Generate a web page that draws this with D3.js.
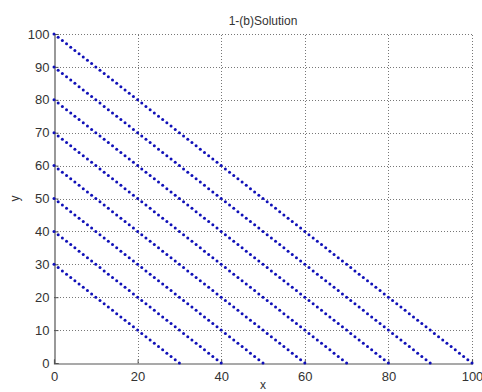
<!DOCTYPE html>
<html>
<head>
<meta charset="utf-8">
<script src="https://cdn.jsdelivr.net/npm/d3@7.9.0/dist/d3.min.js"></script>
<style>
  body { margin: 0; background: #fff; }
  svg text { font-family: "Liberation Sans", Arial, sans-serif; fill: #333; }
</style>
</head>
<body>
<div id="chart"></div>
<script>
// each line is the integer solutions of x + y = c
const intercepts = [30, 40, 50, 60, 70, 80, 90, 100];
const step = 1;
const xTicks = [0, 20, 40, 60, 80, 100];
const yTicks = [0, 10, 20, 30, 40, 50, 60, 70, 80, 90, 100];
const title = '1-(b)Solution';

const width = 482, height = 392;
const margin = { top: 34, right: 10, bottom: 29, left: 54 };

const svg = d3.select('#chart').append('svg')
  .attr('width', width)
  .attr('height', height);

const x = d3.scaleLinear().domain([0, 100]).range([margin.left, 472]);
const y = d3.scaleLinear().domain([0, 100]).range([363, margin.top]);

// gridlines
const grid = svg.append('g').attr('class', 'grid')
  .attr('stroke', '#777')
  .attr('stroke-width', 1)
  .attr('stroke-dasharray', '1,2');
grid.selectAll('line.v').data(xTicks.filter(d => d > 0)).join('line')
  .attr('x1', d => Math.round(x(d)) + 0.5).attr('x2', d => Math.round(x(d)) + 0.5)
  .attr('y1', y(0)).attr('y2', y(100));
grid.selectAll('line.h').data(yTicks.filter(d => d > 0)).join('line')
  .attr('y1', d => Math.round(y(d)) + 0.5).attr('y2', d => Math.round(y(d)) + 0.5)
  .attr('x1', x(0)).attr('x2', x(100));

// axes
const xAxis = svg.append('g')
  .attr('transform', `translate(0,${Math.round(y(0)) + 0.5})`)
  .call(d3.axisBottom(x).tickValues(xTicks).tickSize(-4).tickPadding(8));
const yAxis = svg.append('g')
  .attr('transform', `translate(${Math.round(x(0)) + 0.5},0)`)
  .call(d3.axisLeft(y).tickValues(yTicks).tickSize(-4).tickPadding(5));
[xAxis, yAxis].forEach(g => {
  g.select('.domain').attr('stroke', '#555').attr('stroke-width', 1.2);
  g.selectAll('.tick line').attr('stroke', '#555');
  g.selectAll('.tick text').attr('font-size', 13).style('fill', '#333');
  g.attr('font-family', null);
});

// dots
const points = intercepts.flatMap(c =>
  d3.range(0, c + step / 2, step).map(xv => ({ x: xv, y: c - xv })));
svg.append('g').selectAll('circle')
  .data(points)
  .join('circle')
    .attr('cx', d => x(d.x))
    .attr('cy', d => y(d.y))
    .attr('r', 1.5)
    .attr('fill', '#1010b8');

// labels
svg.append('text')
  .attr('x', (x(0) + x(100)) / 2).attr('y', 25)
  .attr('text-anchor', 'middle').attr('font-size', 12)
  .text(title);
svg.append('text')
  .attr('x', (x(0) + x(100)) / 2).attr('y', 389)
  .attr('text-anchor', 'middle').attr('font-size', 12)
  .text('x');
svg.append('text')
  .attr('transform', `translate(19,${(y(0) + y(100)) / 2}) rotate(-90)`)
  .attr('text-anchor', 'middle').attr('font-size', 12)
  .text('y');
</script>
</body>
</html>
